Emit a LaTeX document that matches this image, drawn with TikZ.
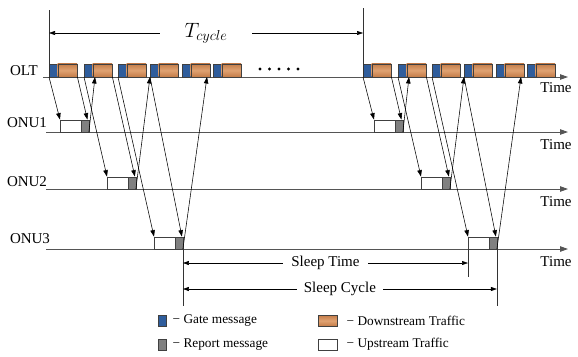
\documentclass[tikz,border=0pt]{standalone}
\usepackage{fontspec}
\setmainfont{Liberation Serif}
\usetikzlibrary{arrows.meta,calc}
\definecolor{gateblue}{HTML}{2F5D9C}
\definecolor{repgray}{HTML}{808080}
\definecolor{woodA}{HTML}{C47C48}
\definecolor{woodB}{HTML}{DFA272}
\definecolor{axisgray}{HTML}{555555}
\begin{document}
\begin{tikzpicture}[x=1pt,y=-1pt,
  blk/.style={draw=black!75,line width=0.4pt,inner sep=0pt,anchor=south west,minimum height=13pt},
  gate/.style={blk,fill=gateblue,minimum width=8.5pt},
  dstr/.style={blk,top color=woodA,bottom color=woodA,middle color=woodB,minimum width=19.5pt},
  upb/.style={blk,fill=white,minimum width=20.5pt,minimum height=12pt},
  rep/.style={blk,fill=repgray,minimum width=8pt,minimum height=12pt},
  msg/.style={black,line width=0.55pt,-{Triangle[length=6.5pt,width=4.5pt]}},
  axis/.style={axisgray,line width=0.9pt,-{Triangle[length=8pt,width=5.5pt]}},
  vline/.style={black!80,line width=0.5pt},
  dim/.style={black,line width=0.55pt,{Triangle[length=6pt,width=4pt]}-{Triangle[length=6pt,width=4pt]}},
  lbl/.style={font=\fontsize{15}{18}\selectfont,inner sep=0pt},
  leg/.style={font=\fontsize{13.3}{16}\selectfont,inner sep=0pt,anchor=west}
]
\useasboundingbox (0,0) rectangle (578,356);

% axes
\coordinate (oltS) at (43,77);  \coordinate (oltE) at (568,77);
\coordinate (o1S) at (46,132);  \coordinate (o1E) at (568,132);
\coordinate (o2S) at (46,189);  \coordinate (o2E) at (568,189);
\coordinate (o3S) at (46,249);  \coordinate (o3E) at (568,249);
\draw[axis] (oltS) -- (oltE);
\draw[axis] (o1S) -- (o1E);
\draw[axis] (o2S) -- (o2E);
\draw[axis] (o3S) -- (o3E);

\node[lbl] (lolt) at (24,71) {OLT};
\node[lbl] (lo1) at (27,123) {ONU1};
\node[lbl] (lo2) at (27,182) {ONU2};
\node[lbl] (lo3) at (30,239) {ONU3};
\node[lbl] (t0) at (556,88) {Time};
\node[lbl] (t1) at (556,145) {Time};
\node[lbl] (t2) at (556,202) {Time};
\node[lbl] (t3) at (556,262) {Time};

% two cycles
\foreach \s/\c in {0/L,314/R}{
\begin{scope}[xshift=\s pt]
  \foreach \i/\x in {1/49,2/84,3/118,4/150,5/182,6/213}{
    \node[gate] (g\c\i) at (\x,77) {};
    \node[dstr] (d\c\i) at (\x+8.5,77) {};
  }
  \node[upb] (u\c1) at (60,132) {};
  \node[rep] (r\c1) at (80.5,132) {};
  \node[upb] (u\c2) at (107,189) {};
  \node[rep] (r\c2) at (127.5,189) {};
  \node[upb] (u\c3) at (154,249) {};
  \node[rep] (r\c3) at (174.5,249) {};
  \coordinate (p\c1) at (95,77);
  \coordinate (p\c3) at (207,77);
  \draw[msg] (g\c1.south west) -- (u\c1.north west);
  \draw[msg] (d\c1.south east) -- ([xshift=-1.5pt]r\c1.north east);
  \draw[msg] (r\c1.south east) -- (p\c1);
  \draw[msg] (g\c2.south west) -- (u\c2.north west);
  \draw[msg] (d\c2.south east) -- ([xshift=-1pt]r\c2.north east);
  \draw[msg] (r\c2.south east) -- (g\c4.south west);
  \draw[msg] (g\c3.south west) -- (u\c3.north west);
  \draw[msg] (g\c4.south west) -- ([xshift=-1pt]r\c3.north east);
  \draw[msg] (r\c3.south east) -- (p\c3);
\end{scope}
}

% dots
\foreach \x [count=\k] in {260,269.5,279,288.5,298}{
  \fill (\x,69) circle[radius=1.6pt] coordinate (dot\k);
}

% T cycle
\coordinate (tc0) at (49,10);
\coordinate (tc1) at (363,8);
\draw[vline] (gL1.south west) -- (tc0);
\draw[vline] (gR1.south west) -- (tc1);
\coordinate (ta0) at (49,33);
\coordinate (ta1) at (363,33);
\draw[dim] (ta0) -- node[fill=white,inner xsep=25pt,inner ysep=2pt,font=\fontsize{20}{24}\selectfont] (tcyc) {$T_{cycle}$} (ta1);

% sleep time / cycle
\coordinate (s0) at ([yshift=-57pt]rL3.south east);
\coordinate (s1) at ([yshift=-28pt]uR3.south west);
\coordinate (s2) at ([yshift=-57pt]rR3.south east);
\draw[vline] (rL3.south east) -- (s0);
\draw[vline] (uR3.south west) -- (s1);
\draw[vline] (rR3.south east) -- (s2);
\draw[dim] ([yshift=-14pt]rL3.south east) -- node[fill=white,lbl,inner xsep=8pt,inner ysep=1pt] (slt) {Sleep Time} ([yshift=-14pt]uR3.south west);
\draw[dim] ([yshift=-40pt]rL3.south east) -- node[fill=white,lbl,inner xsep=7pt,inner ysep=1pt] (slc) {Sleep Cycle} ([yshift=-40pt]rR3.south east);

% legend
\node[gate,anchor=north west,minimum width=7.5pt,minimum height=11pt] (lgg) at (158,315) {};
\node[leg] (lgt) at (172.5,320.5) {− Gate message};
\node[rep,anchor=north west,minimum width=7.5pt,minimum height=11pt] (lgr) at (158,339) {};
\node[leg] (lrt) at (172.5,344.5) {− Report message};
\node[dstr,anchor=north west,minimum width=19pt,minimum height=11pt] (lgd) at (318,315) {};
\node[leg] (ldt) at (346.5,320.5) {− Downstream Traffic};
\node[upb,anchor=north west,minimum width=19pt,minimum height=11pt] (lgu) at (318,339) {};
\node[leg] (lut) at (346.5,344.5) {− Upstream Traffic};
\end{tikzpicture}
\end{document}
